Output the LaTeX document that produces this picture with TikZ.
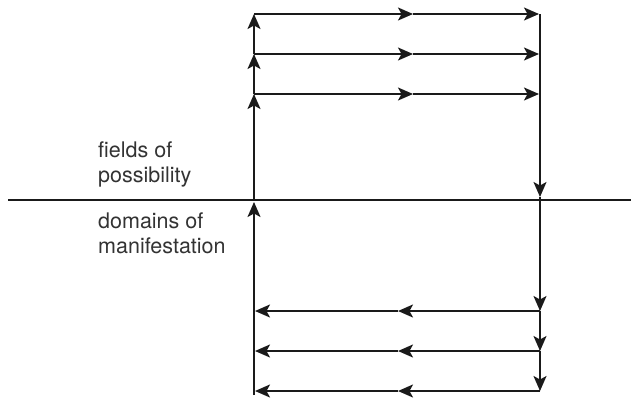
\documentclass[tikz,border=0pt]{standalone}
\usepackage{fontspec}
\setmainfont{TeX Gyre Heros}
\usetikzlibrary{arrows.meta}
\definecolor{ink}{HTML}{1A1A1A}
\definecolor{labelgray}{HTML}{333333}
\tikzset{
  flow/.style={draw=ink, line width=1.8pt, -{Stealth[length=15pt,width=13pt,inset=3.5pt]}},
  divider/.style={draw=ink, line width=1.4pt},
  caption/.style={anchor=base west, inner sep=0pt, align=left, text=labelgray,
    font=\fontsize{21.5}{25}\selectfont}
}
\begin{document}
\begin{tikzpicture}[x=1pt, y=-1pt]
  \useasboundingbox (0,0) rectangle (631,397);

  % divider between the two realms
  \coordinate (dl) at (8,200);
  \coordinate (dr) at (631,200);
  \draw[divider] (dl) -- (dr);

  % left column points
  \coordinate (l1) at (254,14);
  \coordinate (l2) at (254,54);
  \coordinate (l3) at (254,94);
  \coordinate (l0) at (254,200);
  \coordinate (lx) at (254,202);
  \coordinate (lb) at (254,395);
  \coordinate (lb1) at (254,311);
  \coordinate (lb2) at (254,351);
  \coordinate (lb3) at (254,391);

  % right column points
  \coordinate (r1) at (540,14);
  \coordinate (r2) at (540,54);
  \coordinate (r3) at (540,94);
  \coordinate (rx) at (540,197);
  \coordinate (rb1) at (540,311);
  \coordinate (rb2) at (540,351);
  \coordinate (rb3) at (540,391);

  % midpoints of the horizontal rows
  \coordinate (m1) at (413,14);
  \coordinate (m2) at (413,54);
  \coordinate (m3) at (413,94);
  \coordinate (n1) at (398,311);
  \coordinate (n2) at (398,351);
  \coordinate (n3) at (398,391);

  % left column: rising flow
  \draw[flow] (l0) -- (l3);
  \draw[flow] (l3) -- (l2);
  \draw[flow] (l2) -- (l1);
  \draw[flow] (lb) -- (lx);

  % right column: descending flow
  \draw[flow] (r1) -- (rx);
  \draw[flow] (rx) -- (rb1);
  \draw[flow] (rb1) -- (rb2);
  \draw[flow] (rb2) -- (rb3);

  % upper rows, left to right
  \foreach \i in {1,2,3} {
    \draw[flow] (l\i) -- (m\i);
    \draw[flow] (m\i) -- ([xshift=-1pt]r\i);
  }
  % lower rows, right to left
  \foreach \i in {1,2,3} {
    \draw[flow] (rb\i) -- (n\i);
    \draw[flow] (n\i) -- ([xshift=1pt]lb\i);
  }

  % labels (anchored at the baseline of the last line)
  \node[caption] (fields) at (98,182) {fields of\\possibility};
  \node[caption] (domains) at (98,253) {domains of\\manifestation};
\end{tikzpicture}
\end{document}
